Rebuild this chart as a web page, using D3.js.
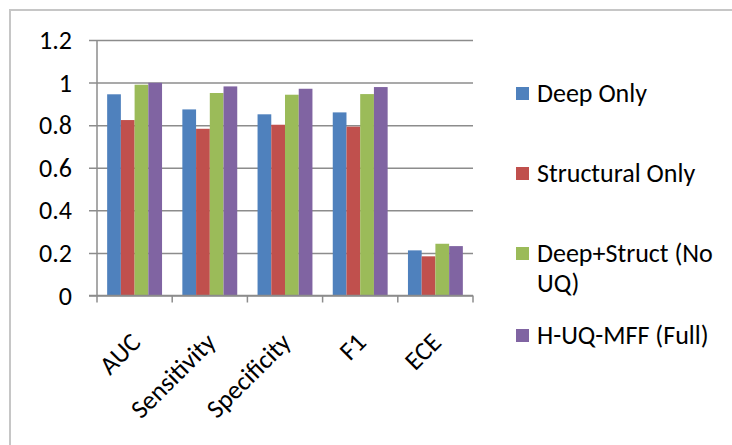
<!DOCTYPE html>
<html>
<head>
<meta charset="utf-8">
<script src="https://cdn.jsdelivr.net/npm/d3@7"></script>
<style>
  html, body { margin: 0; padding: 0; background: #fff; }
  svg { display: block; font-family: Carlito, Lato, "Liberation Sans", "DejaVu Sans", sans-serif; }
</style>
</head>
<body>
<svg id="chart" width="732" height="445"></svg>
<script>
// Metrics compared across four model variants
const categories = ["AUC", "Sensitivity", "Specificity", "F1", "ECE"];
const seriesNames = ["Deep Only", "Structural Only", "Deep+Struct (No UQ)", "H-UQ-MFF (Full)"];
const deepOnly       = [0.945, 0.874, 0.851, 0.860, 0.212];
const structuralOnly = [0.824, 0.783, 0.802, 0.793, 0.184];
const deepStruct     = [0.990, 0.951, 0.943, 0.946, 0.243];
const huqFull        = [0.999, 0.982, 0.971, 0.979, 0.232];
const yTicks = [0, 0.2, 0.4, 0.6, 0.8, 1, 1.2];
const colors = ["#4f81bd", "#c0504d", "#9bbb59", "#8064a2"];

const seriesValues = [deepOnly, structuralOnly, deepStruct, huqFull];
const fontSize = 26;

const svg = d3.select("#chart");

// chart frame
svg.append("rect")
  .attr("x", 10).attr("y", 10)
  .attr("width", 740).attr("height", 460)
  .attr("fill", "none")
  .attr("stroke", "#c6c6c6")
  .attr("stroke-width", 2);

const plot = { left: 97, right: 473, top: 40, bottom: 295.5 };

const x0 = d3.scaleBand()
  .domain(categories)
  .range([plot.left, plot.right])
  .paddingInner(0.27)
  .paddingOuter(0.135);

const x1 = d3.scaleBand()
  .domain(seriesNames)
  .range([0, x0.bandwidth()]);

const y = d3.scaleLinear()
  .domain([0, 1.2])
  .range([plot.bottom, plot.top]);

// horizontal gridlines, extending left as tick stubs
const gy = svg.append("g")
  .attr("transform", `translate(${plot.right},0)`)
  .call(d3.axisLeft(y).tickValues(yTicks).tickSize(plot.right - plot.left + 8).tickFormat(""));
gy.select(".domain").remove();
gy.selectAll(".tick line")
  .attr("stroke", "#8c8c8c")
  .attr("stroke-width", 1.5);

// y labels
svg.append("g")
  .selectAll("text")
  .data(yTicks)
  .join("text")
  .attr("x", 72)
  .attr("y", d => y(d))
  .attr("dy", "0.35em")
  .attr("text-anchor", "end")
  .attr("font-size", fontSize)
  .attr("fill", "#000")
  .text(d => d3.format("")(d));

// bars
const groups = svg.append("g")
  .selectAll("g")
  .data(categories)
  .join("g")
  .attr("transform", c => `translate(${x0(c)},0)`);

groups.selectAll("rect")
  .data((c, i) => seriesNames.map((s, k) => ({ s, k, v: seriesValues[k][i] })))
  .join("rect")
  .attr("x", d => x1(d.s))
  .attr("width", x1.bandwidth())
  .attr("y", d => y(d.v))
  .attr("height", d => y(0) - y(d.v))
  .attr("fill", d => colors[d.k]);

// y axis line
svg.append("line")
  .attr("x1", plot.left).attr("x2", plot.left)
  .attr("y1", plot.top).attr("y2", plot.bottom)
  .attr("stroke", "#8c8c8c").attr("stroke-width", 1.5);

// x axis line and category boundary ticks
const step = (plot.right - plot.left) / categories.length;
svg.append("line")
  .attr("x1", plot.left - 8).attr("x2", plot.right)
  .attr("y1", plot.bottom).attr("y2", plot.bottom)
  .attr("stroke", "#8c8c8c").attr("stroke-width", 1.5);
svg.append("g")
  .selectAll("line")
  .data(d3.range(categories.length + 1))
  .join("line")
  .attr("x1", i => plot.left + i * step)
  .attr("x2", i => plot.left + i * step)
  .attr("y1", plot.bottom)
  .attr("y2", plot.bottom + 7)
  .attr("stroke", "#8c8c8c").attr("stroke-width", 1.5);

// rotated category labels
svg.append("g")
  .selectAll("text")
  .data(categories)
  .join("text")
  .attr("transform", c => `translate(${x0(c) + x0.bandwidth() / 2 + 1},${plot.bottom + 42}) rotate(-45)`)
  .attr("text-anchor", "end")
  .attr("dy", "0.35em")
  .attr("font-size", fontSize)
  .attr("fill", "#000")
  .text(c => c);

// legend
const legendItems = [
  { k: 0, lines: ["Deep Only"], y: 93 },
  { k: 1, lines: ["Structural Only"], y: 173 },
  { k: 2, lines: ["Deep+Struct (No", "UQ)"], y: 253 },
  { k: 3, lines: ["H-UQ-MFF (Full)"], y: 335 }
];
const legend = svg.append("g");
legendItems.forEach(item => {
  legend.append("rect")
    .attr("x", 516).attr("y", item.y - 6)
    .attr("width", 13).attr("height", 13)
    .attr("fill", colors[item.k]);
  legend.append("text")
    .attr("x", 537).attr("y", item.y)
    .attr("font-size", fontSize)
    .attr("fill", "#000")
    .selectAll("tspan")
    .data(item.lines)
    .join("tspan")
    .attr("x", 537)
    .attr("dy", (d, i) => i === 0 ? "0.35em" : "1.15em")
    .text(d => d);
});
</script>
</body>
</html>
